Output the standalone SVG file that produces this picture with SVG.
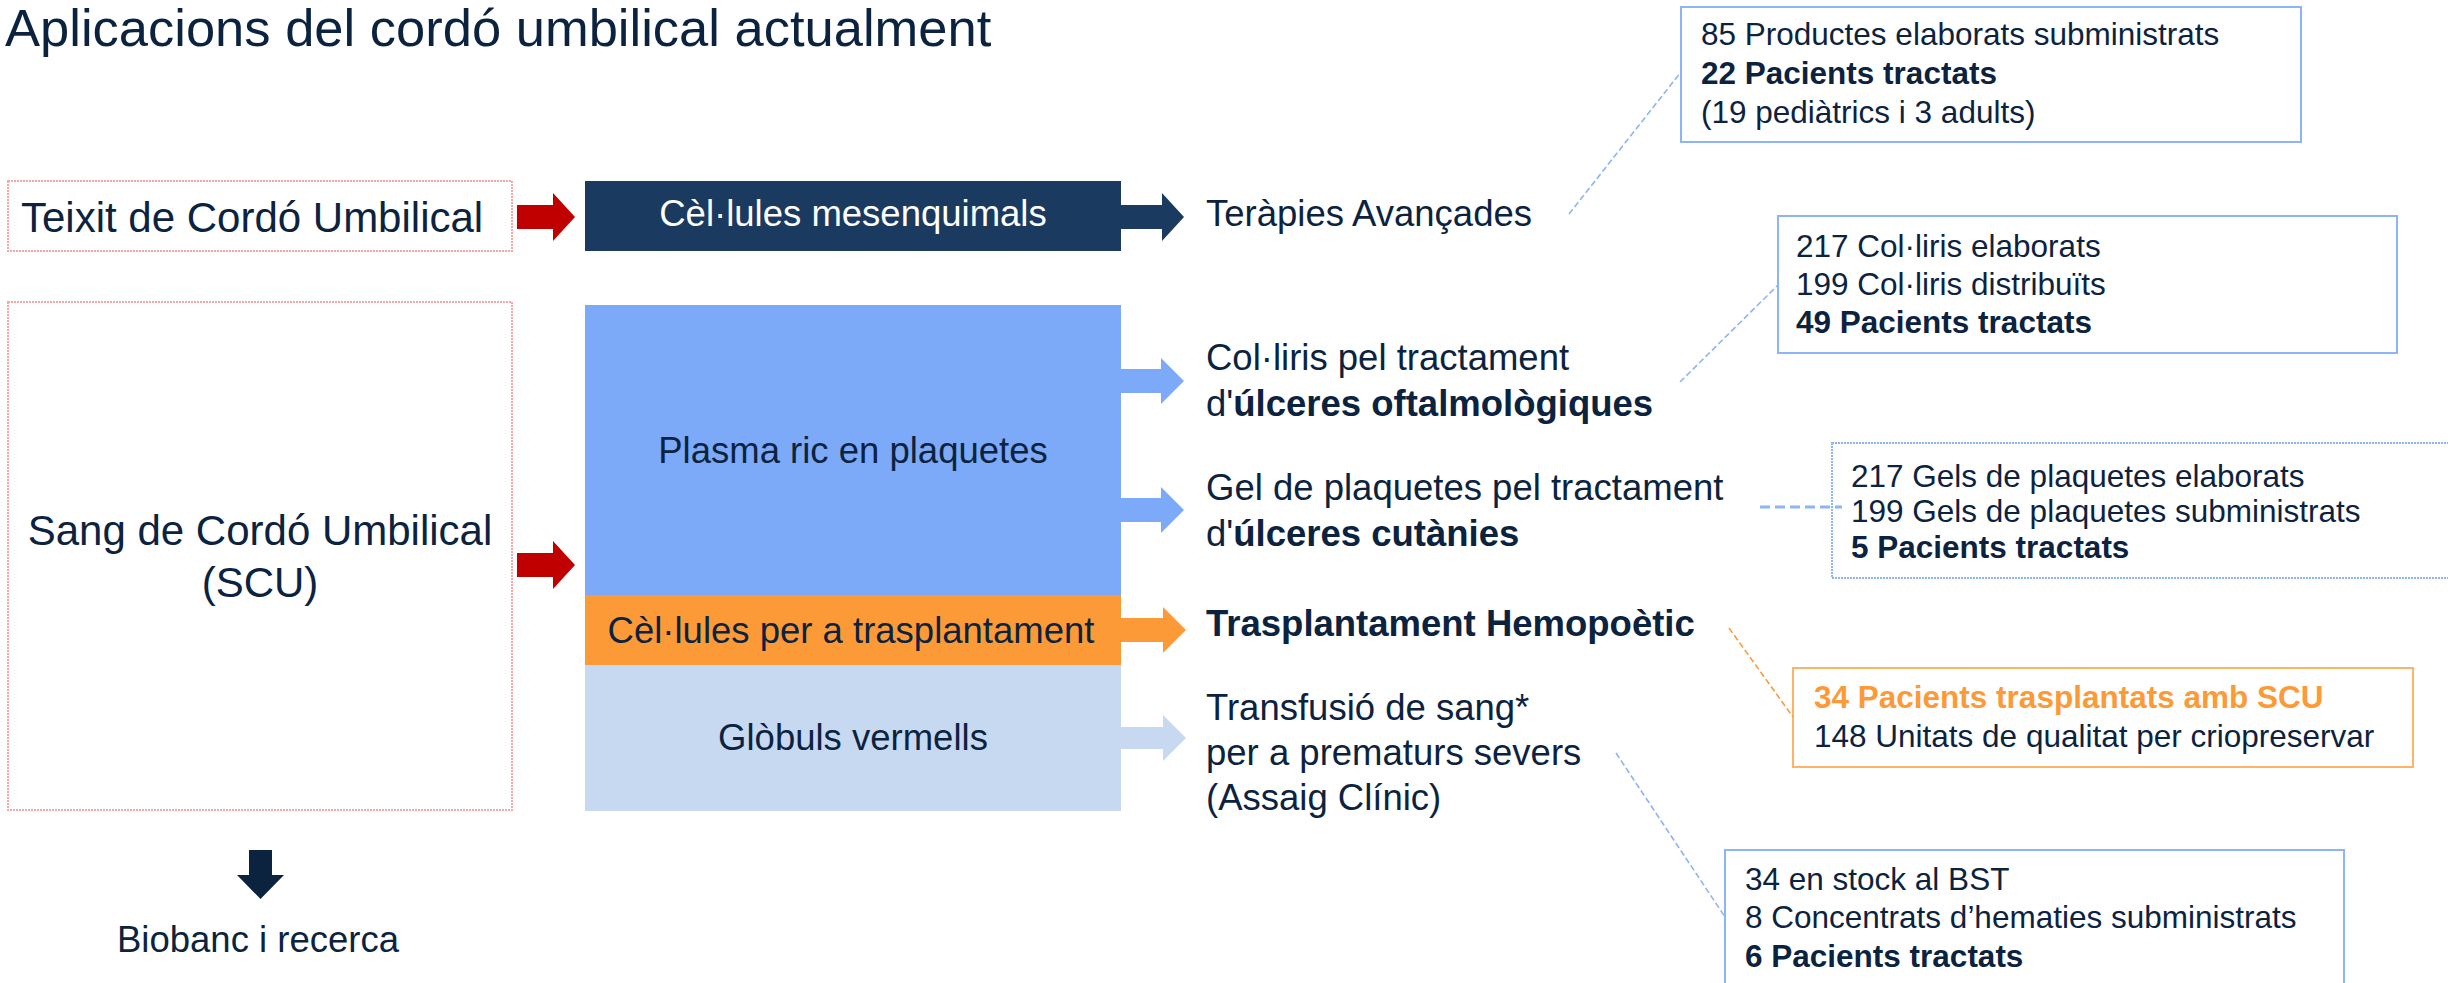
<svg xmlns="http://www.w3.org/2000/svg" width="2448" height="983" viewBox="0 0 2448 983">
<style>
text{font-family:"Liberation Sans",Arial,Helvetica,sans-serif;fill:#0c2340}
.t36{font-size:36.5px}
.t42{font-size:42px}
.s{font-size:31.5px}
.b{font-weight:bold}
.c{text-anchor:middle}
.src{fill:#fff;stroke:#f0a8a8;stroke-width:2;stroke-dasharray:2 1}
.info{fill:#fff;stroke:#8db4f5;stroke-width:2}
.conn{fill:none;stroke:#8db4f5;stroke-width:1.6;stroke-dasharray:6 3}
</style>
<rect width="2448" height="983" fill="#fff"/>
<text x="5" y="46" style="font-size:52.5px">Aplicacions del cordó umbilical actualment</text>

<g id="teixit">
<rect class="src" x="8" y="181" width="504" height="70"/>
<text class="t42" x="21" y="232">Teixit de Cordó Umbilical</text>
</g>
<g id="sang">
<rect class="src" x="8" y="302" width="504" height="508"/>
<text class="t42 c" x="260" y="545">Sang de Cordó Umbilical</text>
<text class="t42 c" x="260" y="597">(SCU)</text>
</g>
<g id="mesenquimals">
<rect x="585" y="181" width="536" height="70" fill="#1b3a60"/>
<text class="t36 c" x="853" y="226" style="fill:#fff">Cèl·lules mesenquimals</text>
</g>
<g id="plasma">
<rect x="585" y="305" width="536" height="290" fill="#7daaf8"/>
<text class="t36 c" x="853" y="463">Plasma ric en plaquetes</text>
</g>
<g id="cellules-trasplantament">
<rect x="585" y="595" width="536" height="70" fill="#fd9a38"/>
<text class="t36 c" x="851" y="643">Cèl·lules per a trasplantament</text>
</g>
<g id="globuls">
<rect x="585" y="665" width="536" height="146" fill="#c6d9f1"/>
<text class="t36 c" x="853" y="750">Glòbuls vermells</text>
</g>

<g id="terapies">
<text class="t36" x="1206" y="226">Teràpies Avançades</text>
</g>
<g id="collirs">
<text class="t36" x="1206" y="370">Col·liris pel tractament</text>
<text class="t36" x="1206" y="416">d'<tspan class="b">úlceres oftalmològiques</tspan></text>
</g>
<g id="gel">
<text class="t36" x="1206" y="500">Gel de plaquetes pel tractament</text>
<text class="t36" x="1206" y="546">d'<tspan class="b">úlceres cutànies</tspan></text>
</g>
<g id="trasplantament">
<text class="t36 b" x="1206" y="636">Trasplantament Hemopoètic</text>
</g>
<g id="transfusio">
<text class="t36" x="1206" y="720">Transfusió de sang*</text>
<text class="t36" x="1206" y="765">per a prematurs severs</text>
<text class="t36" x="1206" y="810">(Assaig Clínic)</text>
</g>
<g id="biobanc">
<text class="t36 c" x="258" y="952">Biobanc i recerca</text>
</g>

<g id="info-terapies">
<rect class="info" x="1681" y="7" width="620" height="135"/>
<text class="s" x="1701" y="45">85 Productes elaborats subministrats</text>
<text class="s b" x="1701" y="84">22 Pacients tractats</text>
<text class="s" x="1701" y="123">(19 pediàtrics i 3 adults)</text>
</g>
<g id="info-collirs">
<rect class="info" x="1778" y="216" width="619" height="137"/>
<text class="s" x="1796" y="257">217 Col·liris elaborats</text>
<text class="s" x="1796" y="295">199 Col·liris distribuïts</text>
<text class="s b" x="1796" y="333">49 Pacients tractats</text>
</g>
<g id="info-gel">
<rect x="1832" y="443" width="640" height="135" fill="#fff" stroke="#8db4f5" stroke-width="2" stroke-dasharray="2 1"/>
<text class="s" x="1851" y="487">217 Gels de plaquetes elaborats</text>
<text class="s" x="1851" y="522">199 Gels de plaquetes subministrats</text>
<text class="s b" x="1851" y="558">5 Pacients tractats</text>
</g>
<g id="info-trasplantament">
<rect x="1793" y="668" width="620" height="99" fill="#fff" stroke="#ffb366" stroke-width="2"/>
<text class="s b" x="1814" y="708" style="fill:#fd9a38">34 Pacients trasplantats amb SCU</text>
<text class="s" x="1814" y="747">148 Unitats de qualitat per criopreservar</text>
</g>
<g id="info-transfusio">
<rect class="info" x="1725" y="850" width="619" height="160"/>
<text class="s" x="1745" y="890">34 en stock al BST</text>
<text class="s" x="1745" y="928">8 Concentrats d’hematies subministrats</text>
<text class="s b" x="1745" y="967">6 Pacients tractats</text>
</g>

<g id="connectors">
<polygon fill="#c00000" points="517,205 553,205 553,193 575,217 553,241 553,229 517,229"/>
<polygon fill="#c00000" points="517,553 553,553 553,541 575,565 553,589 553,577 517,577"/>
<polygon fill="#1b3a60" points="1121,205 1162,205 1162,193 1184,217 1162,241 1162,229 1121,229"/>
<polygon fill="#7daaf8" points="1121,369 1161,369 1161,358 1184,381 1161,404 1161,393 1121,393"/>
<polygon fill="#7daaf8" points="1121,498 1161,498 1161,487 1184,510 1161,533 1161,522 1121,522"/>
<polygon fill="#fd9a38" points="1121,618 1163,618 1163,607 1186,630 1163,653 1163,642 1121,642"/>
<polygon fill="#c6d9f1" points="1121,727 1163,727 1163,715 1186,738 1163,761 1163,749 1121,749"/>
<polygon fill="#0c2340" points="249,850 272,850 272,875 284,875 260.5,899 237,875 249,875"/>
<line class="conn" x1="1569" y1="214" x2="1681" y2="72"/>
<line class="conn" x1="1680" y1="382" x2="1778" y2="285"/>
<line x1="1760" y1="507" x2="1842" y2="507" stroke="#8db4f5" stroke-width="3" stroke-dasharray="10 5"/>
<line class="conn" x1="1729" y1="628" x2="1793" y2="717" style="stroke:#fd9a38"/>
<line class="conn" x1="1616" y1="753" x2="1725" y2="917"/>
</g>
</svg>
